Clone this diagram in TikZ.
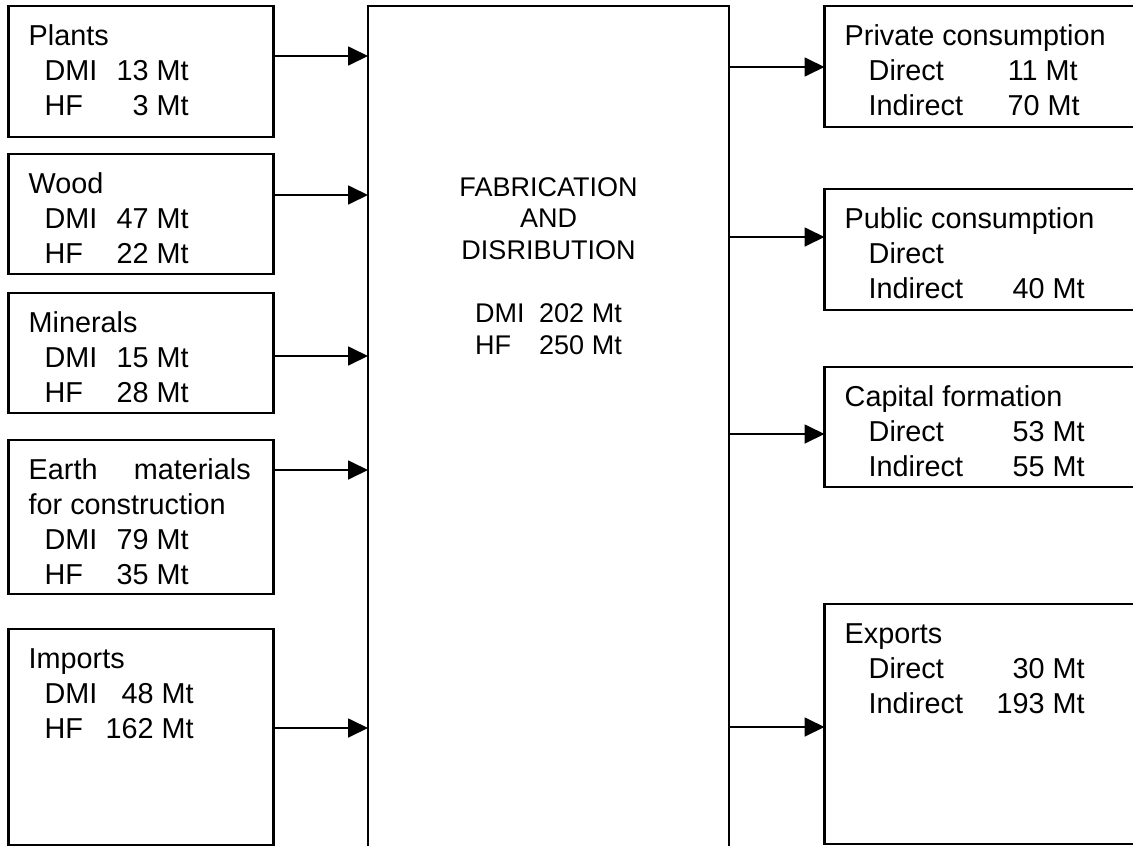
\documentclass[tikz,border=0pt]{standalone}
\usepackage{fontspec}
\setmainfont{Liberation Sans}
\usetikzlibrary{arrows.meta,positioning}
\newcommand{\boxfont}{\fontsize{28.8}{35}\selectfont}
\newcommand{\fabfont}{\fontsize{27}{31.6}\selectfont}
\newcommand{\lrow}[3][44pt]{\hspace*{16pt}\makebox[60pt][l]{#2}\makebox[#1][r]{#3} Mt}
\newcommand{\rrow}[3][64pt]{\hspace*{24pt}\makebox[112pt][l]{#2}\makebox[#1][r]{#3} Mt}
\newcommand{\boxlines}[1]{\parbox[t]{290pt}{\raggedright #1}}
\tikzset
{
    srcbox/.style = {draw=black, line width=2.2pt, anchor=north west, inner sep=0pt, outer sep=0pt, minimum width=265pt},
    usebox/.style = {draw=black, line width=2.2pt, anchor=north west, inner sep=0pt, outer sep=0pt, minimum width=330pt},
    fabbox/.style = {draw=black, line width=1.9pt, anchor=north west, inner sep=0pt, outer sep=0pt, minimum width=361pt, minimum height=870pt},
    boxtext/.style = {anchor=base west, inner sep=0pt, font=\boxfont},
    flow/.style = {line width=1.8pt, -{Triangle[length=20pt, width=19pt]}}
}
\begin{document}
\begin{tikzpicture}[x=1pt, y=-1pt]
    \clip (0,0) rectangle (1133,846);
    % ------------------------------------------------ sources
    \node [srcbox, minimum height=131pt] (plants) at (8.5,6) {};
    \node [srcbox, minimum height=120pt] (wood) at (8.5,154) {};
    \node [srcbox, minimum height=120pt] (minerals) at (8.5,293) {};
    \node [srcbox, minimum height=154pt] (earth) at (8.5,440) {};
    \node [srcbox, minimum height=216pt] (imports) at (8.5,629) {};
    % ------------------------------------------------ fabrication
    \node [fabbox] (fab) at (368,6) {};
    % ------------------------------------------------ uses
    \node [usebox, minimum height=121pt] (private) at (824.5,6) {};
    \node [usebox, minimum height=121pt] (public) at (824.5,189) {};
    \node [usebox, minimum height=120pt] (capital) at (824.5,367) {};
    \node [usebox, minimum height=240pt] (exports) at (824.5,604) {};
    % ------------------------------------------------ put the text into the boxes
    \node [boxtext] (plantstext) at ([shift={(20pt,-39.5pt)}]plants.north west)
        {\boxlines{Plants\\ \lrow{DMI}{13}\\ \lrow{HF}{3}}};
    \node [boxtext] (woodtext) at ([shift={(20pt,-39.5pt)}]wood.north west)
        {\boxlines{Wood\\ \lrow{DMI}{47}\\ \lrow{HF}{22}}};
    \node [boxtext] (mineralstext) at ([shift={(20pt,-39.5pt)}]minerals.north west)
        {\boxlines{Minerals\\ \lrow{DMI}{15}\\ \lrow{HF}{28}}};
    \node [boxtext] (earthtext) at ([shift={(20pt,-39.5pt)}]earth.north west)
        {\boxlines{\makebox[222pt][s]{Earth materials}\\ for construction\\ \lrow{DMI}{79}\\ \lrow{HF}{35}}};
    \node [boxtext] (importstext) at ([shift={(20pt,-39.5pt)}]imports.north west)
        {\boxlines{Imports\\ \lrow[49pt]{DMI}{48}\\ \lrow[49pt]{HF}{162}}};
    \node [anchor=base, inner sep=0pt, font=\fabfont] (fabtext) at ([yshift=-190pt]fab.north)
        {\parbox[t]{340pt}{\centering FABRICATION\\ AND\\ DISRIBUTION\\[31.6pt]
        \makebox[64pt][l]{DMI}202 Mt\\ \makebox[64pt][l]{HF}250 Mt}};
    \node [boxtext] (privatetext) at ([shift={(20pt,-39.5pt)}]private.north west)
        {\boxlines{Private consumption\\ \rrow[57pt]{Direct}{11}\\ \rrow[59pt]{Indirect}{70}}};
    \node [boxtext] (publictext) at ([shift={(20pt,-39.5pt)}]public.north west)
        {\boxlines{Public consumption\\ \hspace*{24pt}Direct\\ \rrow{Indirect}{40}}};
    \node [boxtext] (capitaltext) at ([shift={(20pt,-39.5pt)}]capital.north west)
        {\boxlines{Capital formation\\ \rrow{Direct}{53}\\ \rrow{Indirect}{55}}};
    \node [boxtext] (exportstext) at ([shift={(20pt,-39.5pt)}]exports.north west)
        {\boxlines{Exports\\ \rrow{Direct}{30}\\ \rrow{Indirect}{193}}};
    % ------------------------------------------------ flows
    \foreach \src/\dy in {plants/15.5, wood/19, minerals/-3, earth/47, imports/9}
        \draw [flow] ([yshift=\dy pt]\src.east) coordinate (s) -- (s -| fab.west);
    \foreach \dst/\dy in {private/-0.5, public/12.5, capital/-7, exports/-3}
        \draw [flow] ([yshift=\dy pt]\dst.west -| fab.east) coordinate (t) -- (t -| \dst.west);
\end{tikzpicture}
\end{document}
